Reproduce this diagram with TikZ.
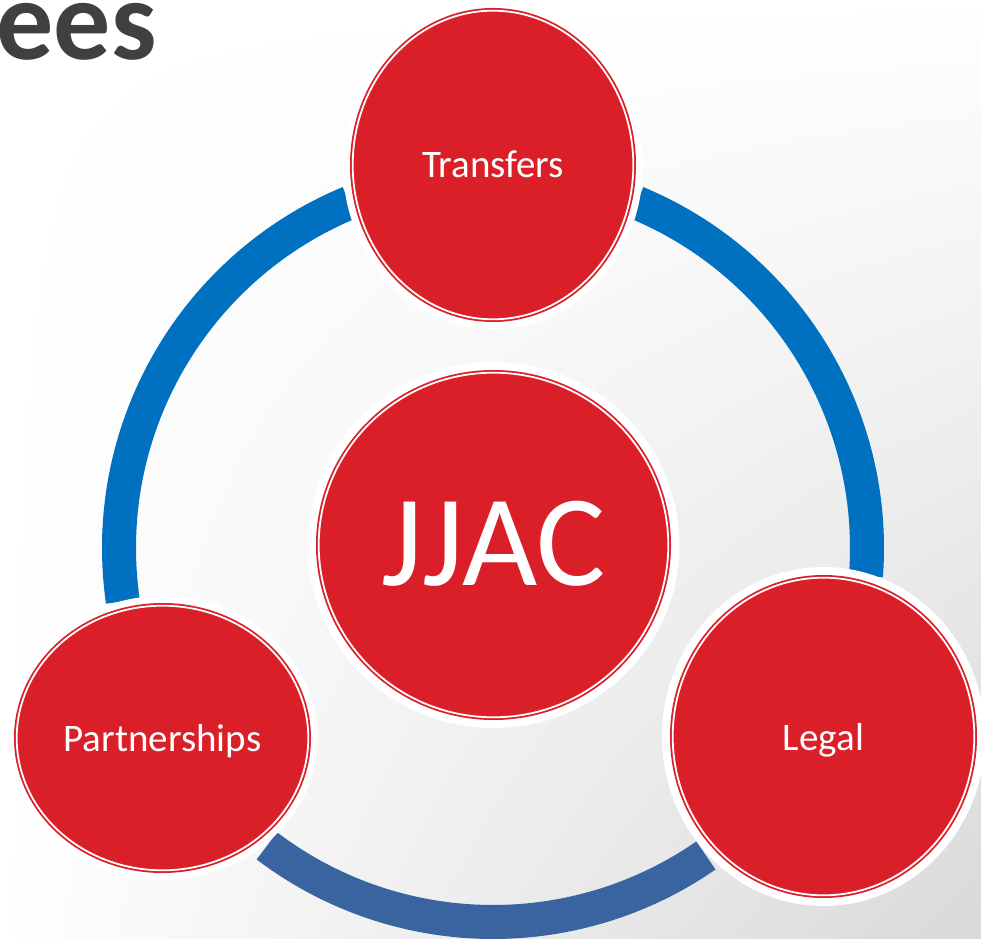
\documentclass[tikz,border=0pt]{standalone}
\usepackage{fontspec}
\setmainfont{Carlito}
\usetikzlibrary{shapes.geometric,shadings}
\definecolor{cred}{HTML}{DA1F28}
\definecolor{cblue}{HTML}{0070C0}
\definecolor{cbluedark}{HTML}{3A64A0}
\definecolor{ctitle}{HTML}{404040}
\begin{document}
\begin{tikzpicture}[x=1pt,y=1pt,
  bubble/.style={ellipse, inner sep=0pt, fill=cred, draw=cred, double=white,
    line width=1.8pt, double distance=1.8pt, text=white, text depth=0pt},
  halo/.style={fill=white},
  ringarc/.style={line width=34pt, line cap=butt},
  lbl/.style={font=\fontsize{39}{42}\selectfont}]
\useasboundingbox (0,0) rectangle (981,938);
\shade[upper left=white, upper right=white, lower left=white, lower right=white!85!black] (0,0) rectangle (981,938);
% title fragment
\node[anchor=base east, inner sep=0pt, text=ctitle, font=\fontsize{114}{120}\selectfont\bfseries] (title) at (157,878) {ees};
% ring
\coordinate (ring) at (493,390);
\draw[ringarc, cblue] (ring) ++(188.2:374) arc[start angle=188.2, end angle=112.6, radius=374];
\draw[ringarc, cblue] (ring) ++(67.4:374) arc[start angle=67.4, end angle=-4.3, radius=374];
\draw[ringarc, cbluedark] (ring) ++(232.8:374) arc[start angle=232.8, end angle=304.7, radius=374];
% halos
\fill[halo] (493,773) ellipse [x radius=150, y radius=164];
\fill[halo] (493.5,393) ellipse [x radius=186, y radius=183];
\fill[halo] (162.5,200) ellipse [x radius=155, y radius=142];
\fill[halo] (823.5,201.5) ellipse [x radius=161.5, y radius=169.5];
% bubbles
\node[bubble, lbl, minimum width=280.6pt, minimum height=308.6pt, text height=26pt] (transfers) at (493,773) {Transfers};
\node[bubble, minimum width=349.6pt, minimum height=344.6pt, text height=80pt, font=\fontsize{130}{136}\selectfont] (jjac) at (493.5,393) {JJAC};
\node[bubble, lbl, minimum width=291.6pt, minimum height=264.6pt, text height=26pt] (partnerships) at (162.5,200) {Partnerships};
\node[bubble, lbl, minimum width=301.6pt, minimum height=317.6pt, text height=27pt] (legal) at (823.5,201.5) {Legal};
\end{tikzpicture}
\end{document}
